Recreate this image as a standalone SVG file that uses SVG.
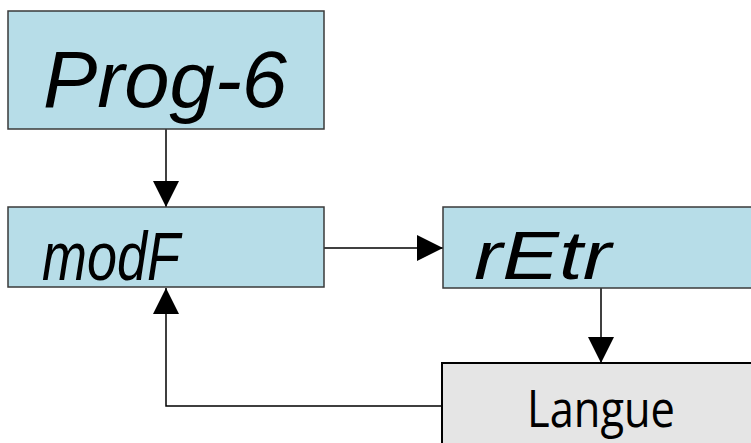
<svg xmlns="http://www.w3.org/2000/svg" width="751" height="443" viewBox="0 0 751 443">
<defs>
<style>
.lcd{fill:#b7dde8;stroke:#3a3a3a;stroke-width:1.5}
.gray{fill:#e5e5e5;stroke:#000;stroke-width:2}
.seg{font-family:"Liberation Sans",Arial,sans-serif;font-style:italic;fill:#000}
.lbl{font-family:"Open Sans","Noto Sans",sans-serif;fill:#000}
.conn{fill:none;stroke:#000;stroke-width:1.5}
</style>
<marker id="ah" markerUnits="userSpaceOnUse" markerWidth="26" markerHeight="26" viewBox="0 0 26 26" refX="26" refY="13" orient="auto">
<path d="M0,0 L26,13 L0,26 Z" fill="#000"/>
</marker>
</defs>
<g id="connectors">
<path class="conn" d="M166,129 V207" marker-end="url(#ah)"/>
<path class="conn" d="M324,248 H443" marker-end="url(#ah)"/>
<path class="conn" d="M601,288 V363" marker-end="url(#ah)"/>
<path class="conn" d="M442,406 H166 V288" marker-end="url(#ah)"/>
</g>
<g id="node-prog6">
<rect class="lcd" x="8" y="11" width="316" height="118"/>
<text class="seg" x="43" y="107" font-size="80" textLength="244" lengthAdjust="spacingAndGlyphs">Prog-6</text>
</g>
<g id="node-modf">
<rect class="lcd" x="8" y="207" width="316" height="80"/>
<text class="seg" x="42" y="280" font-size="68" textLength="138" lengthAdjust="spacingAndGlyphs">modF</text>
</g>
<g id="node-retr">
<rect class="lcd" x="443" y="207" width="320" height="81"/>
<text class="seg" x="474" y="279" font-size="68" textLength="137" lengthAdjust="spacingAndGlyphs">rEtr</text>
</g>
<g id="node-langue">
<rect class="gray" x="442" y="363" width="330" height="100"/>
<text class="lbl" x="527" y="427" font-size="52" textLength="148" lengthAdjust="spacingAndGlyphs">Langue</text>
</g>
</svg>
